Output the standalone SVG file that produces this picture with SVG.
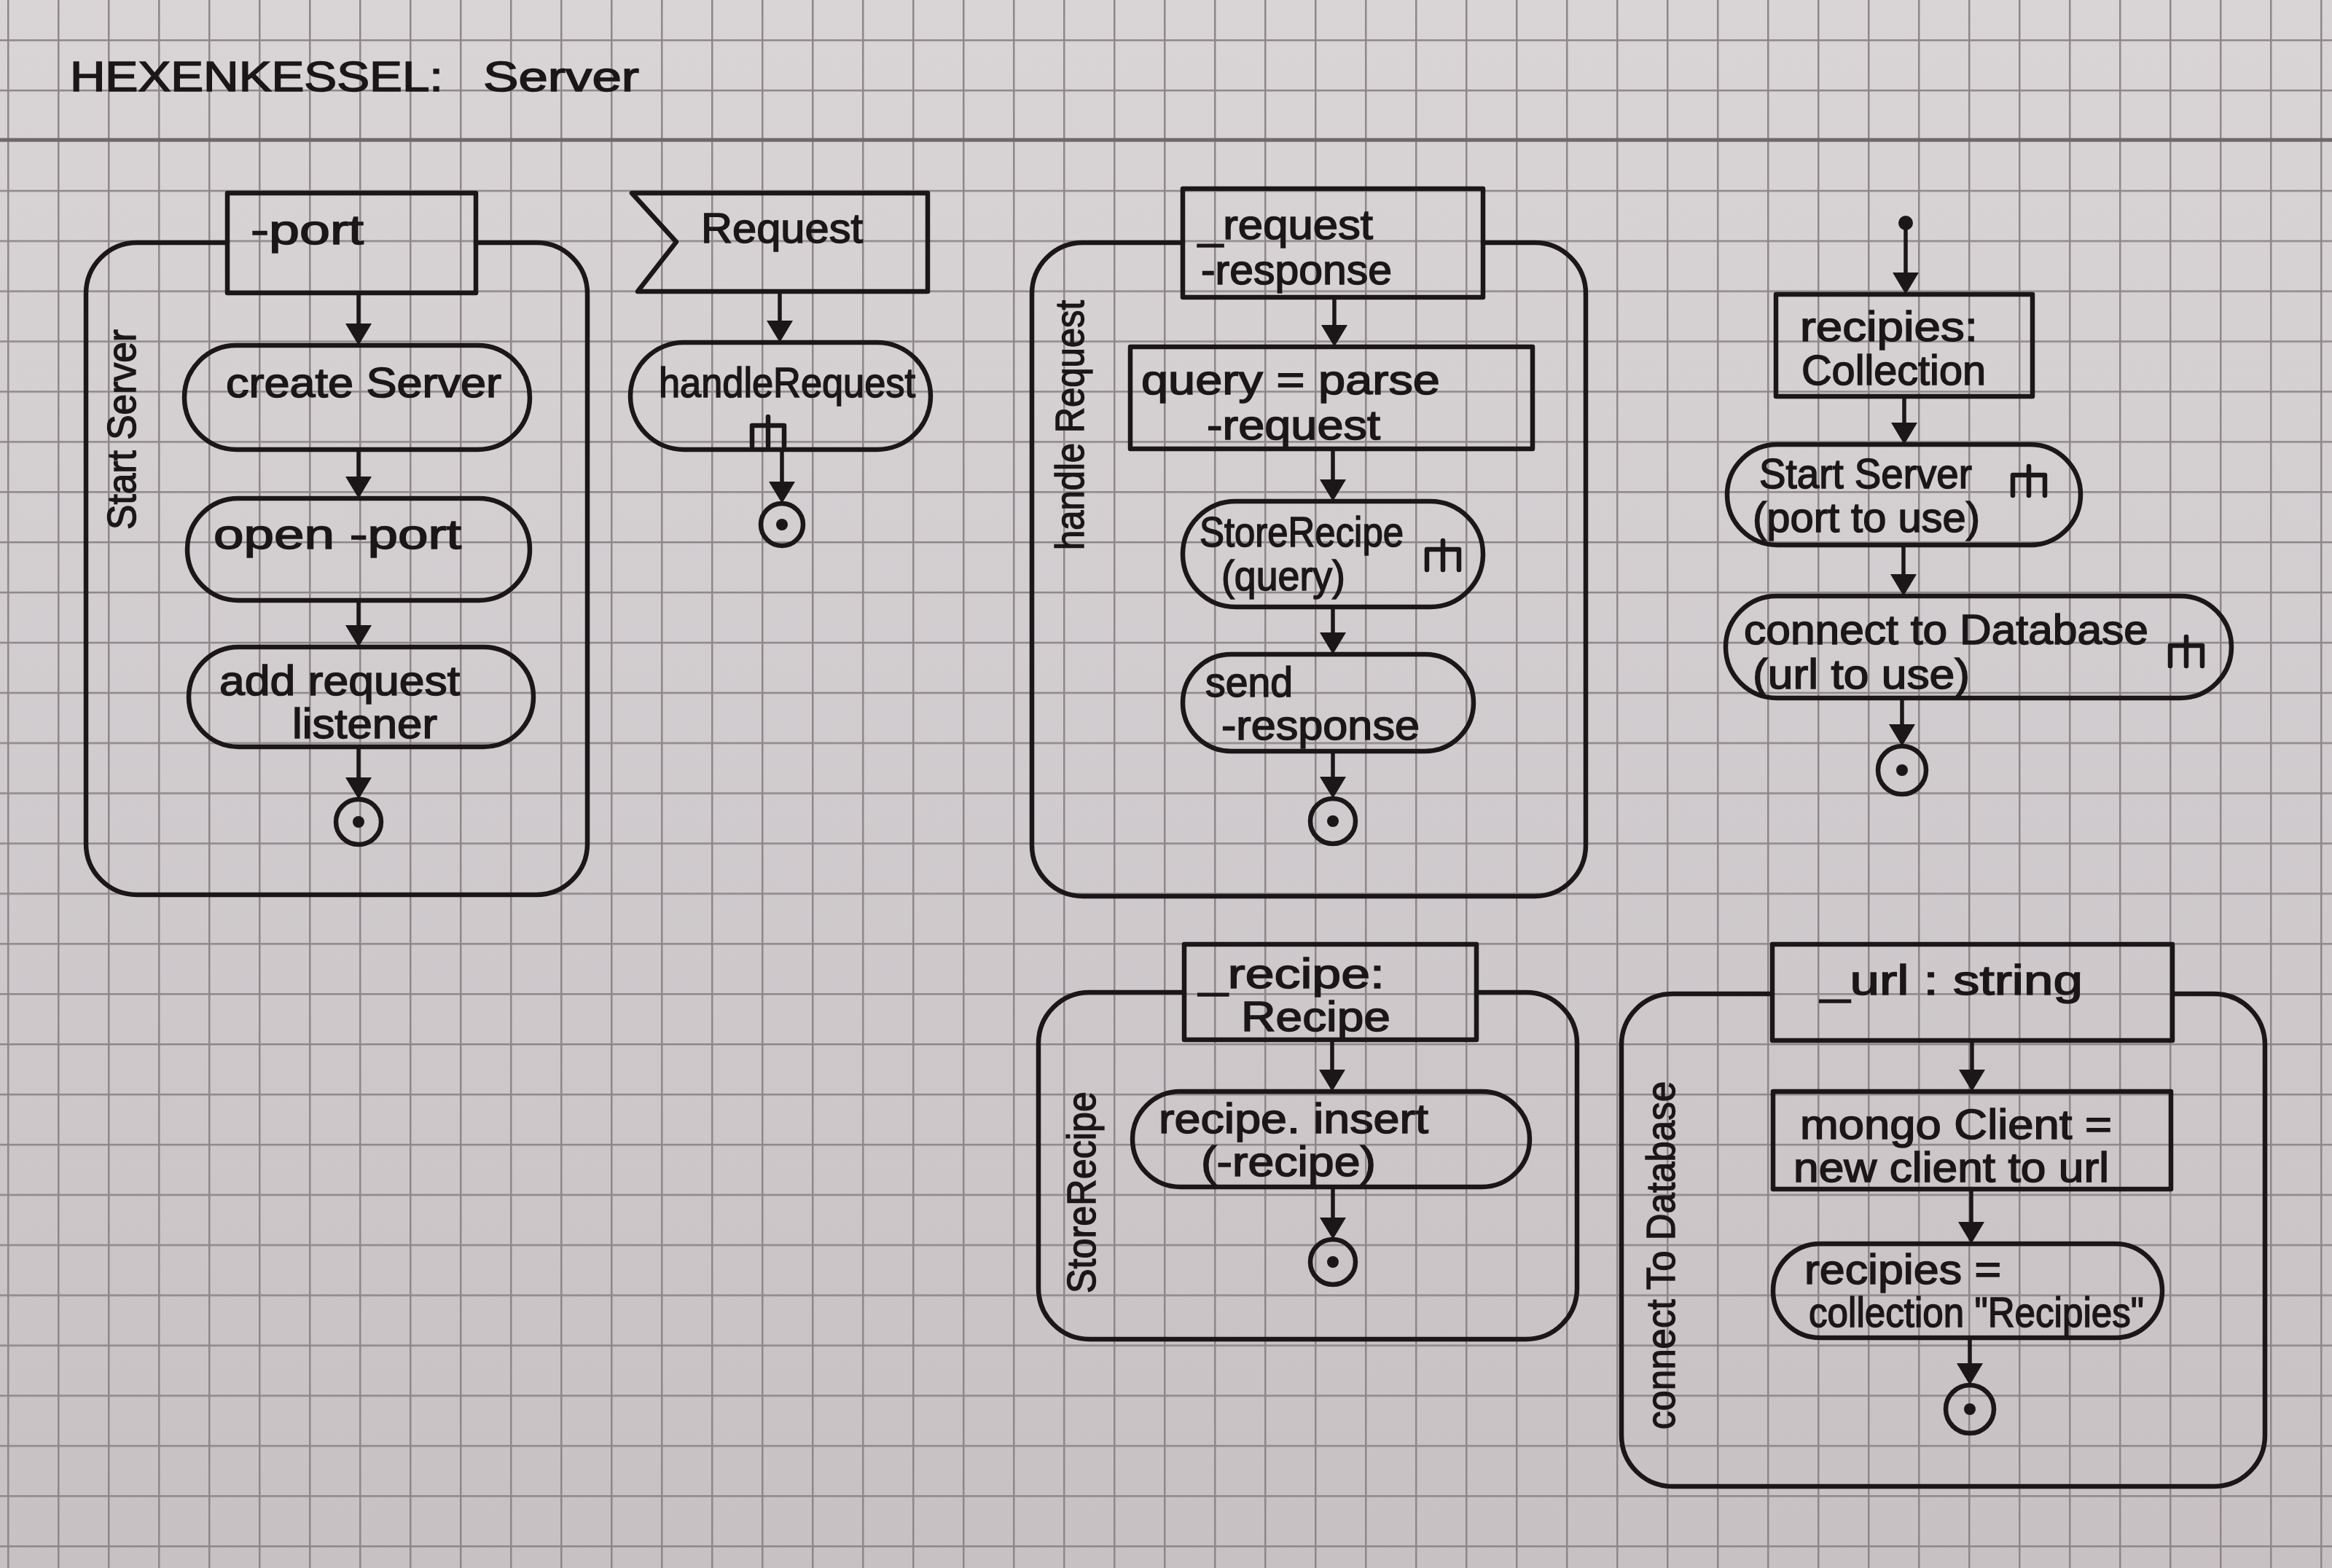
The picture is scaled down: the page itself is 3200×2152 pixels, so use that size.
<svg xmlns="http://www.w3.org/2000/svg" width="3200" height="2152" viewBox="0 0 3200 2152">
<defs>
<linearGradient id="paper" x1="0" y1="0" x2="0" y2="1">
<stop offset="0" stop-color="#d9d5d7"/>
<stop offset="1" stop-color="#c7c1c4"/>
</linearGradient>
<pattern id="grid" patternUnits="userSpaceOnUse" x="10" y="54" width="69" height="68.9">
<path d="M0,1.25 H69 M1.25,0 V68.9" stroke="#8e878a" stroke-width="2.5" fill="none"/>
</pattern>
<marker id="ah" markerUnits="userSpaceOnUse" markerWidth="30" markerHeight="36" viewBox="0 0 30 36" refX="20" refY="18" orient="auto">
<path d="M0,0 L30,18 L0,36 z" fill="#1b1618"/>
</marker>
<path id="rake" d="M0,40 V12 H44 V40 M22,0 V40"/>
<style>
.ink{fill:none;stroke:#1b1618;stroke-width:6.5;stroke-linejoin:round;stroke-linecap:round}
.con{fill:none;stroke:#1b1618;stroke-width:5.5;stroke-linecap:butt}
.t{font-family:"Liberation Sans",Arial,sans-serif;font-size:58px;fill:#1b1618;stroke:#1b1618;stroke-width:1.6}
.lbl{font-family:"Liberation Sans",Arial,sans-serif;font-size:56px;fill:#1b1618;stroke:#1b1618;stroke-width:1.4}
.dot{fill:#1b1618}
</style>
</defs>

<rect x="0" y="0" width="3200" height="2152" fill="url(#paper)"/>
<rect x="0" y="0" width="3200" height="2152" fill="url(#grid)"/>
<line x1="0" y1="192" x2="3200" y2="192" stroke="#6f676b" stroke-width="5"/>

<g id="title">
<text class="t" x="96" y="125" font-size="88" textLength="512" lengthAdjust="spacingAndGlyphs">HEXENKESSEL:</text>
<text class="t" x="663" y="125" font-size="76" textLength="214" lengthAdjust="spacingAndGlyphs">Server</text>
</g>

<!-- Start Server activity -->
<g id="startServerFrame">
<path class="ink" d="M312,333 H188 A70,70 0 0 0 118,403 V1158 A70,70 0 0 0 188,1228 H736 A70,70 0 0 0 806,1158 V403 A70,70 0 0 0 736,333 H653"/>
<text class="lbl" transform="translate(186,727) rotate(-90)" textLength="275" lengthAdjust="spacingAndGlyphs">Start Server</text>
</g>
<g id="portParam">
<rect class="ink" x="312" y="265" width="341" height="137"/>
<text class="t" x="344" y="335" font-size="66" textLength="155" lengthAdjust="spacingAndGlyphs">-port</text>
</g>
<g id="createServer">
<rect class="ink" x="253" y="474" width="474" height="143" rx="71.5"/>
<text class="t" x="310" y="545" textLength="378" lengthAdjust="spacingAndGlyphs">create Server</text>
</g>
<g id="openPort">
<rect class="ink" x="257" y="684" width="470" height="140" rx="70"/>
<text class="t" x="293" y="753" textLength="340" lengthAdjust="spacingAndGlyphs">open -port</text>
</g>
<g id="addListener">
<rect class="ink" x="259" y="888" width="473" height="137" rx="68.5"/>
<text class="t" x="301" y="954" font-size="54" textLength="330" lengthAdjust="spacingAndGlyphs">add request</text>
<text class="t" x="401" y="1013" font-size="54" textLength="199" lengthAdjust="spacingAndGlyphs">listener</text>
</g>
<g id="endStartServer">
<circle class="ink" cx="492" cy="1128" r="31"/>
<circle class="dot" cx="492" cy="1128" r="8"/>
</g>

<!-- Request event -->
<g id="requestEvent">
<polygon class="ink" points="867,265 1273,265 1273,400 875,400 928,332"/>
<text class="t" x="962" y="333" font-size="62" textLength="222" lengthAdjust="spacingAndGlyphs">Request</text>
</g>
<g id="handleRequestCall">
<rect class="ink" x="865" y="470" width="412" height="147" rx="73.5"/>
<text class="t" x="904" y="545" textLength="352" lengthAdjust="spacingAndGlyphs">handleRequest</text>
<use href="#rake" class="ink" x="1032" y="572"/>
</g>
<g id="endRequest">
<circle class="ink" cx="1073" cy="720" r="29"/>
<circle class="dot" cx="1073" cy="720" r="8"/>
</g>

<!-- handleRequest activity -->
<g id="handleRequestFrame">
<path class="ink" d="M1623,333 H1486 A70,70 0 0 0 1416,403 V1160 A70,70 0 0 0 1486,1230 H2106 A70,70 0 0 0 2176,1160 V403 A70,70 0 0 0 2106,333 H2035"/>
<text class="lbl" transform="translate(1487,755) rotate(-90)" textLength="343" lengthAdjust="spacingAndGlyphs">handle Request</text>
</g>
<g id="reqResParams">
<rect class="ink" x="1623" y="259" width="412" height="149"/>
<text class="t" x="1644" y="328" textLength="240" lengthAdjust="spacingAndGlyphs">_request</text>
<text class="t" x="1648" y="390" textLength="262" lengthAdjust="spacingAndGlyphs">-response</text>
</g>
<g id="parseQuery">
<rect class="ink" x="1551" y="476" width="552" height="140"/>
<text class="t" x="1566" y="541" textLength="410" lengthAdjust="spacingAndGlyphs">query = parse</text>
<text class="t" x="1656" y="603" textLength="238" lengthAdjust="spacingAndGlyphs">-request</text>
</g>
<g id="storeRecipeCall">
<rect class="ink" x="1623" y="688" width="412" height="145" rx="72.5"/>
<text class="t" x="1646" y="750" font-size="50" textLength="280" lengthAdjust="spacingAndGlyphs">StoreRecipe</text>
<text class="t" x="1676" y="810" font-size="50" textLength="170" lengthAdjust="spacingAndGlyphs">(query)</text>
<use href="#rake" class="ink" x="1958" y="742"/>
</g>
<g id="sendResponse">
<rect class="ink" x="1623" y="898" width="399" height="133" rx="66.5"/>
<text class="t" x="1654" y="956" font-size="56" textLength="120" lengthAdjust="spacingAndGlyphs">send</text>
<text class="t" x="1676" y="1015" font-size="56" textLength="272" lengthAdjust="spacingAndGlyphs">-response</text>
</g>
<g id="endHandleRequest">
<circle class="ink" cx="1829" cy="1127" r="31"/>
<circle class="dot" cx="1829" cy="1127" r="8"/>
</g>

<!-- Main flow -->
<g id="start">
<circle class="dot" cx="2615" cy="306" r="10"/>
</g>
<g id="recipiesCollection">
<rect class="ink" x="2437" y="404" width="352" height="140"/>
<text class="t" x="2470" y="468" font-size="56" textLength="244" lengthAdjust="spacingAndGlyphs">recipies:</text>
<text class="t" x="2472" y="528" font-size="56" textLength="253" lengthAdjust="spacingAndGlyphs">Collection</text>
</g>
<g id="startServerCall">
<rect class="ink" x="2370" y="610" width="485" height="138" rx="69"/>
<text class="t" x="2414" y="670" font-size="50" textLength="292" lengthAdjust="spacingAndGlyphs">Start Server</text>
<text class="t" x="2405" y="730" font-size="50" textLength="312" lengthAdjust="spacingAndGlyphs">(port to use)</text>
<use href="#rake" class="ink" x="2762" y="640"/>
</g>
<g id="connectDatabaseCall">
<rect class="ink" x="2368" y="818" width="694" height="140" rx="70"/>
<text class="t" x="2393" y="884" font-size="54" textLength="555" lengthAdjust="spacingAndGlyphs">connect to Database</text>
<text class="t" x="2405" y="945" font-size="54" textLength="298" lengthAdjust="spacingAndGlyphs">(url to use)</text>
<use href="#rake" class="ink" x="2978" y="874"/>
</g>
<g id="endMain">
<circle class="ink" cx="2610" cy="1057" r="33"/>
<circle class="dot" cx="2610" cy="1057" r="8"/>
</g>

<!-- StoreRecipe activity -->
<g id="storeRecipeFrame">
<path class="ink" d="M1625,1362 H1495 A70,70 0 0 0 1425,1432 V1768 A70,70 0 0 0 1495,1838 H2094 A70,70 0 0 0 2164,1768 V1432 A70,70 0 0 0 2094,1362 H2026"/>
<text class="lbl" transform="translate(1503,1775) rotate(-90)" textLength="277" lengthAdjust="spacingAndGlyphs">StoreRecipe</text>
</g>
<g id="recipeParam">
<rect class="ink" x="1625" y="1296" width="401" height="131"/>
<text class="t" x="1645" y="1356" font-size="54" textLength="255" lengthAdjust="spacingAndGlyphs">_recipe:</text>
<text class="t" x="1703" y="1415" font-size="54" textLength="205" lengthAdjust="spacingAndGlyphs">Recipe</text>
</g>
<g id="recipeInsert">
<rect class="ink" x="1554" y="1498" width="545" height="131" rx="65.5"/>
<text class="t" x="1590" y="1555" font-size="50" textLength="370" lengthAdjust="spacingAndGlyphs">recipe. insert</text>
<text class="t" x="1648" y="1614" font-size="50" textLength="240" lengthAdjust="spacingAndGlyphs">(-recipe)</text>
</g>
<g id="endStoreRecipe">
<circle class="ink" cx="1829" cy="1732" r="31"/>
<circle class="dot" cx="1829" cy="1732" r="8"/>
</g>

<!-- connectToDatabase activity -->
<g id="connectDatabaseFrame">
<path class="ink" d="M2432,1364 H2295 A70,70 0 0 0 2225,1434 V1970 A70,70 0 0 0 2295,2040 H3038 A70,70 0 0 0 3108,1970 V1434 A70,70 0 0 0 3038,1364 H2981"/>
<text class="lbl" transform="translate(2298,1962) rotate(-90)" textLength="478" lengthAdjust="spacingAndGlyphs">connect To Database</text>
</g>
<g id="urlParam">
<rect class="ink" x="2432" y="1296" width="549" height="132"/>
<text class="t" x="2498" y="1365" textLength="360" lengthAdjust="spacingAndGlyphs">_url : string</text>
</g>
<g id="mongoClient">
<rect class="ink" x="2433" y="1498" width="546" height="134"/>
<text class="t" x="2470" y="1563" font-size="56" textLength="428" lengthAdjust="spacingAndGlyphs">mongo Client =</text>
<text class="t" x="2461" y="1622" font-size="56" textLength="433" lengthAdjust="spacingAndGlyphs">new client to url</text>
</g>
<g id="recipiesAssign">
<rect class="ink" x="2433" y="1707" width="534" height="129" rx="64.5"/>
<text class="t" x="2476" y="1762" font-size="56" textLength="270" lengthAdjust="spacingAndGlyphs">recipies =</text>
<text class="t" x="2482" y="1821" font-size="56" textLength="460" lengthAdjust="spacingAndGlyphs">collection "Recipies"</text>
</g>
<g id="endConnect">
<circle class="ink" cx="2703" cy="1934" r="33"/>
<circle class="dot" cx="2703" cy="1934" r="8"/>
</g>

<g id="connectors">
<line class="con" x1="492" y1="402" x2="492" y2="464" marker-end="url(#ah)"/>
<line class="con" x1="492" y1="617" x2="492" y2="674" marker-end="url(#ah)"/>
<line class="con" x1="492" y1="824" x2="492" y2="878" marker-end="url(#ah)"/>
<line class="con" x1="492" y1="1025" x2="492" y2="1087" marker-end="url(#ah)"/>
<line class="con" x1="1070" y1="400" x2="1070" y2="460" marker-end="url(#ah)"/>
<line class="con" x1="1073" y1="617" x2="1073" y2="681" marker-end="url(#ah)"/>
<line class="con" x1="1831" y1="408" x2="1831" y2="466" marker-end="url(#ah)"/>
<line class="con" x1="1829" y1="616" x2="1829" y2="678" marker-end="url(#ah)"/>
<line class="con" x1="1829" y1="833" x2="1829" y2="888" marker-end="url(#ah)"/>
<line class="con" x1="1829" y1="1031" x2="1829" y2="1086" marker-end="url(#ah)"/>
<line class="con" x1="2615" y1="306" x2="2615" y2="394" marker-end="url(#ah)"/>
<line class="con" x1="2613" y1="544" x2="2613" y2="600" marker-end="url(#ah)"/>
<line class="con" x1="2612" y1="748" x2="2612" y2="808" marker-end="url(#ah)"/>
<line class="con" x1="2610" y1="958" x2="2610" y2="1014" marker-end="url(#ah)"/>
<line class="con" x1="1828" y1="1427" x2="1828" y2="1488" marker-end="url(#ah)"/>
<line class="con" x1="1829" y1="1629" x2="1829" y2="1691" marker-end="url(#ah)"/>
<line class="con" x1="2706" y1="1428" x2="2706" y2="1488" marker-end="url(#ah)"/>
<line class="con" x1="2705" y1="1632" x2="2705" y2="1697" marker-end="url(#ah)"/>
<line class="con" x1="2703" y1="1836" x2="2703" y2="1891" marker-end="url(#ah)"/>
</g>
</svg>
